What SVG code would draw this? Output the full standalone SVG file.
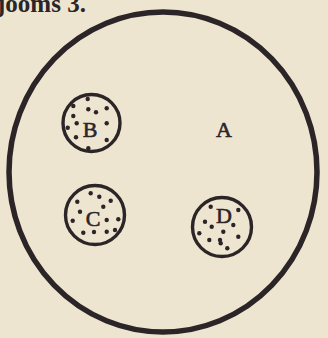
<svg xmlns="http://www.w3.org/2000/svg" width="328" height="338" viewBox="0 0 328 338">
<style>
.ring{fill:none;stroke:#2b2527;stroke-width:3.4}
.dot{fill:#2b2527}
.lbl{font-family:"Liberation Serif","DejaVu Serif",serif;font-size:22px;fill:#2b2527;stroke:#2b2527;stroke-width:0.6;text-anchor:middle}
</style>
<rect width="328" height="338" fill="#eee5d1"/>
<text x="-3" y="12" style="font-family:'Liberation Serif',serif;font-size:25px;font-weight:bold;fill:#2b2527">jooms 3.</text>
<g id="A">
<ellipse cx="163" cy="172" rx="154" ry="160" fill="none" stroke="#2b2527" stroke-width="5.5"/>
<text class="lbl" x="224" y="137">A</text>
</g>
<g id="B">
<circle class="ring" cx="91.5" cy="123" r="28.5"/>
<text class="lbl" x="90" y="137">B</text>
<g class="dot">
<circle cx="73.3" cy="106" r="2.2"/><circle cx="87.7" cy="99" r="2.2"/><circle cx="88.3" cy="109.3" r="2.2"/><circle cx="96" cy="112.3" r="2.2"/><circle cx="106.7" cy="108.3" r="2.2"/><circle cx="73.3" cy="116" r="2.2"/><circle cx="76.7" cy="123.3" r="2.2"/><circle cx="67.7" cy="127.7" r="2.2"/><circle cx="106.7" cy="123.3" r="2.2"/><circle cx="76" cy="137.3" r="2.2"/><circle cx="106.7" cy="140" r="2.2"/><circle cx="88.3" cy="148.3" r="2.2"/>
</g>
</g>
<g id="C">
<circle class="ring" cx="95" cy="215" r="29.5"/>
<text class="lbl" x="93" y="226">C</text>
<g class="dot">
<circle cx="90.7" cy="193.3" r="2.2"/><circle cx="99.3" cy="196.7" r="2.2"/><circle cx="110.7" cy="200.7" r="2.2"/><circle cx="103.3" cy="206.7" r="2.2"/><circle cx="77.3" cy="201.7" r="2.2"/><circle cx="80" cy="211.7" r="2.2"/><circle cx="72.7" cy="220.7" r="2.2"/><circle cx="106.7" cy="220" r="2.2"/><circle cx="118.3" cy="219.3" r="2.2"/><circle cx="83.3" cy="232.7" r="2.2"/><circle cx="94" cy="232" r="2.2"/><circle cx="106.7" cy="231.7" r="2.2"/><circle cx="115" cy="230" r="2.2"/>
</g>
</g>
<g id="D">
<circle class="ring" cx="222" cy="227" r="29.5"/>
<text class="lbl" x="224" y="223">D</text>
<g class="dot">
<circle cx="210.7" cy="206.7" r="2.2"/><circle cx="238.3" cy="210" r="2.2"/><circle cx="205" cy="221.7" r="2.2"/><circle cx="211.7" cy="226.7" r="2.2"/><circle cx="233.3" cy="225" r="2.2"/><circle cx="199.3" cy="233.3" r="2.2"/><circle cx="223.3" cy="231.7" r="2.2"/><circle cx="209.3" cy="240" r="2.2"/><circle cx="220" cy="240" r="2.2"/><circle cx="238.3" cy="236.7" r="2.2"/><circle cx="227.3" cy="248.3" r="2.2"/><circle cx="220.7" cy="243.3" r="2.2"/>
</g>
</g>
<g id="connectors"/>
</svg>
